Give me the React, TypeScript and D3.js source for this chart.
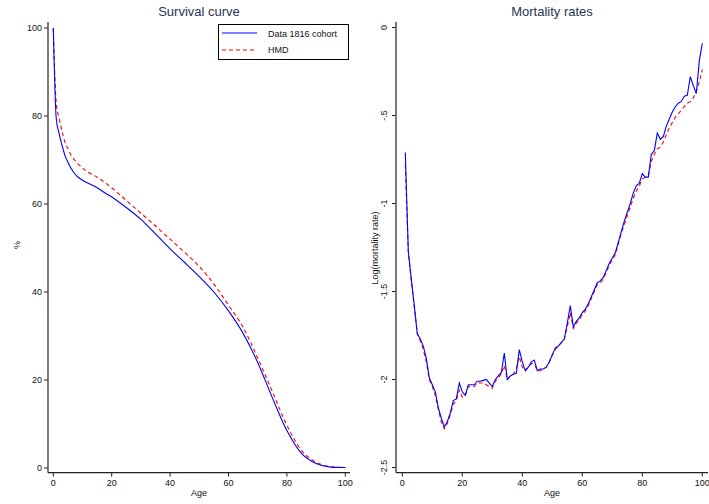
import React from 'react';
import * as d3 from 'd3';

// Survival curve (percent alive by age)
const survAges = [0, 1, 2, 3, 4, 5, 6, 8, 10, 12, 15, 18, 20, 25, 30, 35, 40, 45, 50, 55, 60, 65, 70, 75, 80, 85, 90, 95, 100];
const survData1816 = [100, 79.5, 76, 73.3, 71, 69.5, 68.2, 66.4, 65.4, 64.7, 63.7, 62.4, 61.6, 59.2, 56.5, 53.2, 49.8, 46.7, 43.5, 40, 35.7, 30.6, 24, 16, 8.5, 3.3, 1.0, 0.2, 0.1];
const survHMD = [100, 83, 79.5, 76.5, 74, 72.6, 71.2, 69.5, 68.2, 67.2, 66.1, 64.7, 63.7, 60.8, 57.9, 55, 52, 49, 45.8, 41.8, 37, 32, 25, 17.4, 9.7, 4, 1.3, 0.3, 0.1];

// Mortality rates, log scale, ages 1..100
const mortAges = d3.range(1, 101);
const mortData1816 = [
  -0.71, -1.27, -1.43, -1.58, -1.74, -1.77, -1.81, -1.88, -1.99, -2.03,
  -2.07, -2.16, -2.22, -2.27, -2.24, -2.19, -2.12, -2.11, -2.02, -2.07,
  -2.09, -2.03, -2.03, -2.03, -2.01, -2.01, -2.005, -2.0, -2.02, -2.04,
  -2.0, -1.98, -1.96, -1.85, -2.0, -1.98, -1.97, -1.965, -1.83, -1.9,
  -1.95, -1.93, -1.9, -1.89, -1.95, -1.94, -1.94, -1.93, -1.9, -1.86,
  -1.82, -1.81, -1.79, -1.77, -1.68, -1.58, -1.7, -1.67, -1.65, -1.62,
  -1.6, -1.57, -1.53, -1.49, -1.45, -1.44, -1.42, -1.38, -1.34, -1.31,
  -1.28, -1.22, -1.16, -1.1, -1.05, -1.0, -0.94, -0.9, -0.885, -0.83,
  -0.85, -0.85, -0.72, -0.7, -0.6, -0.635, -0.62, -0.56, -0.52, -0.48,
  -0.45, -0.43, -0.42, -0.39, -0.385, -0.28, -0.33, -0.375, -0.19, -0.09,
];
const mortHMD = [
  -0.78, -1.28, -1.44, -1.59, -1.74, -1.78, -1.83, -1.9, -2.0, -2.04,
  -2.09, -2.17, -2.24, -2.28, -2.25, -2.2, -2.14, -2.12, -2.06, -2.1,
  -2.09, -2.04, -2.04, -2.04, -2.02, -2.02, -2.02, -2.03, -2.04, -2.05,
  -2.01, -1.99, -1.97, -1.92, -2.0, -1.98, -1.97, -1.94, -1.87, -1.93,
  -1.95, -1.93, -1.91, -1.91, -1.95, -1.95, -1.94, -1.93, -1.9, -1.86,
  -1.83, -1.81, -1.79, -1.77, -1.7, -1.62, -1.71, -1.68, -1.66, -1.63,
  -1.61, -1.58, -1.54, -1.5, -1.46, -1.45, -1.43, -1.39, -1.35, -1.32,
  -1.29, -1.23, -1.17, -1.12, -1.07, -1.02, -0.97, -0.93, -0.9, -0.86,
  -0.85, -0.84, -0.76, -0.72, -0.69, -0.68, -0.65, -0.61, -0.57, -0.54,
  -0.51, -0.49, -0.47, -0.45, -0.43, -0.42, -0.4, -0.36, -0.31, -0.24,
];

const ageTicks = [0, 20, 40, 60, 80, 100];
const survTicks = [0, 20, 40, 60, 80, 100];
const mortTicks = [0, -0.5, -1, -1.5, -2, -2.5];
const mortTickLabels = ['0', '-.5', '-1', '-1.5', '-2', '-2.5'];
const seriesNames = ['Data 1816 cohort', 'HMD'];

const FONT = 'Liberation Sans, Arial, sans-serif';
const AXIS = '#222';
const TITLE = '#2b3553';
const BLUE = '#0000ff';
const RED = '#ff0000';

export default function App() {
  // left panel scales
  const xL = d3.scaleLinear().domain([0, 100]).range([53.3, 345.3]);
  const yL = d3.scaleLinear().domain([0, 100]).range([468, 28]);
  // right panel scales
  const xR = d3.scaleLinear().domain([0, 100]).range([402.3, 702.3]);
  const yR = d3.scaleLinear().domain([0, -2.5]).range([27.5, 467.5]);

  const survLine = (vals: number[]) =>
    d3.line<number>().x((_, i) => xL(survAges[i])).y(d => yL(d)).curve(d3.curveMonotoneX)(vals) || '';
  const mortLine = (vals: number[]) =>
    d3.line<number>().x((_, i) => xR(mortAges[i])).y(d => yR(d))(vals) || '';

  const axisY = 472.7;

  return (
    <svg width={709} height={504} style={{ position: 'absolute', left: 0, top: 0, background: '#fff' }}
      fontFamily={FONT}>
      {/* ---------- left panel ---------- */}
      <text x={199} y={16} textAnchor="middle" fontSize={13} fill={TITLE}>Survival curve</text>
      <line x1={48} x2={48} y1={22} y2={axisY} stroke={AXIS} strokeWidth={1.2} />
      <line x1={48} x2={350} y1={axisY} y2={axisY} stroke={AXIS} strokeWidth={1.2} />
      {survTicks.map(t => (
        <g key={'ly' + t}>
          <line x1={44} x2={48} y1={yL(t)} y2={yL(t)} stroke={AXIS} />
          <text x={42} y={yL(t) + 3.2} textAnchor="end" fontSize={9} fill="#111">{t}</text>
        </g>
      ))}
      {ageTicks.map(t => (
        <g key={'lx' + t}>
          <line x1={xL(t)} x2={xL(t)} y1={axisY} y2={axisY + 4} stroke={AXIS} />
          <text x={xL(t)} y={486} textAnchor="middle" fontSize={9} fill="#111">{t}</text>
        </g>
      ))}
      <text x={199} y={496} textAnchor="middle" fontSize={9} fill="#111">Age</text>
      <text transform="translate(20,245) rotate(-90)" textAnchor="middle" fontSize={9} fill="#111">%</text>

      <path d={survLine(survHMD)} fill="none" stroke={RED} strokeWidth={1.1} strokeDasharray="4,3" />
      <path d={survLine(survData1816)} fill="none" stroke={BLUE} strokeWidth={1.1} />

      {/* legend */}
      <rect x={218.5} y={24.5} width={130} height={35} fill="#fff" stroke="#000" strokeWidth={1} />
      <line x1={222} x2={257} y1={33} y2={33} stroke={BLUE} strokeWidth={1.2} />
      <line x1={222} x2={257} y1={50} y2={50} stroke={RED} strokeWidth={1.2} strokeDasharray="4,3" />
      <text x={268} y={36.8} fontSize={9} fill="#111">{seriesNames[0]}</text>
      <text x={268} y={53.3} fontSize={9} fill="#111">{seriesNames[1]}</text>

      {/* ---------- right panel ---------- */}
      <text x={552} y={16} textAnchor="middle" fontSize={13} fill={TITLE}>Mortality rates</text>
      <line x1={396} x2={396} y1={22} y2={axisY} stroke={AXIS} strokeWidth={1.2} />
      <line x1={396} x2={708} y1={axisY} y2={axisY} stroke={AXIS} strokeWidth={1.2} />
      {mortTicks.map((t, i) => (
        <g key={'ry' + t}>
          <line x1={392} x2={396} y1={yR(t)} y2={yR(t)} stroke={AXIS} />
          <text transform={`translate(386.5,${yR(t)}) rotate(-90)`} textAnchor="middle" fontSize={9} fill="#111">
            {mortTickLabels[i]}
          </text>
        </g>
      ))}
      {ageTicks.map(t => (
        <g key={'rx' + t}>
          <line x1={xR(t)} x2={xR(t)} y1={axisY} y2={axisY + 4} stroke={AXIS} />
          <text x={xR(t)} y={486} textAnchor="middle" fontSize={9} fill="#111">{t}</text>
        </g>
      ))}
      <text x={552} y={496} textAnchor="middle" fontSize={9} fill="#111">Age</text>
      <text transform="translate(378,248) rotate(-90)" textAnchor="middle" fontSize={9} fill="#111">
        Log(mortality rate)
      </text>

      <path d={mortLine(mortHMD)} fill="none" stroke={RED} strokeWidth={1.1} strokeDasharray="4,3" />
      <path d={mortLine(mortData1816)} fill="none" stroke={BLUE} strokeWidth={1.1} />
    </svg>
  );
}
